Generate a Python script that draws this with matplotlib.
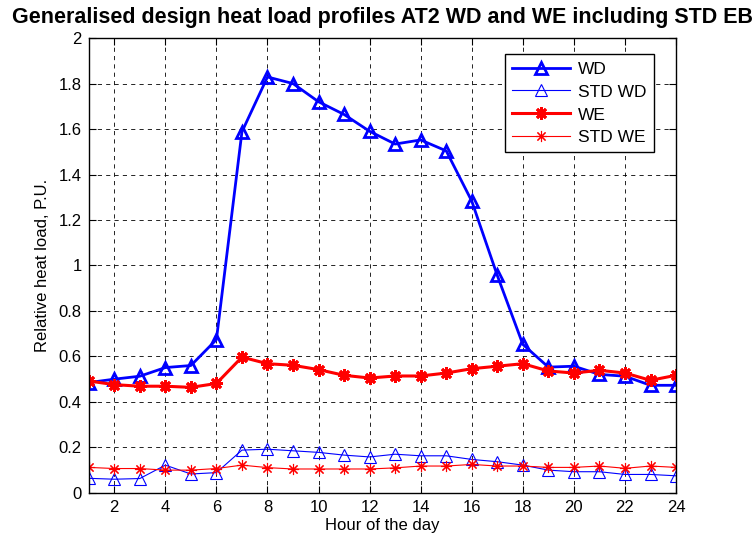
import numpy as np
import matplotlib
matplotlib.use("Agg")
import matplotlib.pyplot as plt
from matplotlib.ticker import FuncFormatter

# --------------------
# Data
# --------------------
hours = list(range(1, 25))

wd = [0.485, 0.50, 0.513, 0.551, 0.560, 0.674, 1.588, 1.829, 1.800, 1.720, 1.664, 1.590,
      1.534, 1.552, 1.504, 1.283, 0.956, 0.653, 0.553, 0.557, 0.521, 0.513, 0.473, 0.473]
std_wd = [0.064, 0.060, 0.063, 0.122, 0.083, 0.089, 0.188, 0.192, 0.185, 0.178, 0.166, 0.158,
          0.170, 0.163, 0.163, 0.147, 0.137, 0.122, 0.100, 0.093, 0.093, 0.081, 0.081, 0.075]
we = [0.492, 0.476, 0.469, 0.469, 0.464, 0.481, 0.597, 0.568, 0.561, 0.542, 0.517, 0.505,
      0.514, 0.514, 0.527, 0.546, 0.557, 0.568, 0.536, 0.527, 0.539, 0.527, 0.495, 0.517]
std_we = [0.112, 0.107, 0.107, 0.100, 0.100, 0.107, 0.122, 0.111, 0.105, 0.105, 0.105, 0.105,
          0.110, 0.118, 0.118, 0.125, 0.118, 0.118, 0.112, 0.112, 0.118, 0.108, 0.118, 0.112]

x_ticks = list(range(2, 25, 2))
y_ticks = [0, 0.2, 0.4, 0.6, 0.8, 1.0, 1.2, 1.4, 1.6, 1.8, 2.0]

plt.rcParams['font.family'] = ['Liberation Sans', 'DejaVu Sans']

fig = plt.figure(figsize=(7.52, 5.44), dpi=100)
ax = fig.add_axes([0.118, 0.094, 0.781, 0.836])

# MATLAB style '*' marker: 8 spoke asterisk
star = (8, 2, 0)

ax.plot(hours, wd, color='blue', linewidth=2, marker='^', markersize=9,
        markerfacecolor='none', markeredgecolor='blue', markeredgewidth=2, label='WD')
ax.plot(hours, std_wd, color='blue', linewidth=0.8, marker='^', markersize=9,
        markerfacecolor='none', markeredgecolor='blue', markeredgewidth=0.8, label='STD WD')
ax.plot(hours, we, color='red', linewidth=2.2, marker=star, markersize=9,
        markeredgecolor='red', markeredgewidth=2, label='WE')
ax.plot(hours, std_we, color='red', linewidth=0.8, marker=star, markersize=8,
        markeredgecolor='red', markeredgewidth=0.8, label='STD WE')

ax.set_xlim(1, 24)
ax.set_ylim(0, 2)
ax.set_xticks(x_ticks)
ax.set_yticks(y_ticks)
ax.yaxis.set_major_formatter(FuncFormatter(lambda v, p: '%g' % v))

ax.grid(True, color='black', linestyle=(0, (5, 5)), linewidth=0.6)
ax.tick_params(direction='in', top=True, right=True, length=5, labelsize=12, pad=5)
for s in ax.spines.values():
    s.set_linewidth(1.0)

ax.set_xlabel('Hour of the day', fontsize=12, labelpad=2)
ax.set_ylabel('Relative heat load, P.U.', fontsize=12, labelpad=6)
fig.text(0.5085, 0.967, 'Generalised design heat load profiles AT2 WD and WE including STD EB',
         ha='center', va='center', fontsize=15.5, fontweight='bold')

leg = ax.legend(loc='upper right', bbox_to_anchor=(0.977, 0.983), fancybox=False,
                edgecolor='black', framealpha=1, fontsize=12.5, handlelength=3.3,
                borderpad=0.4, labelspacing=0.45, handletextpad=0.5)
leg.get_frame().set_linewidth(1.0)

fig.savefig('out.png', dpi=100)
